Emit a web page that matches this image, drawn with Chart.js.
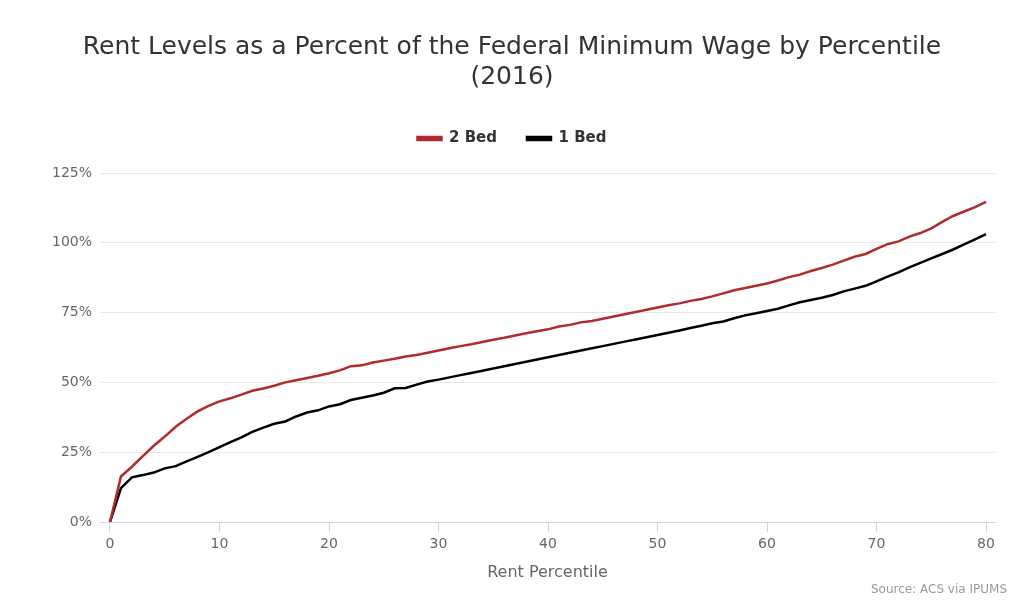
<!DOCTYPE html>
<html>
<head>
<meta charset="utf-8">
<script src="https://cdn.jsdelivr.net/npm/chart.js@4.4.1/dist/chart.umd.min.js"></script>
<style>
  html, body { margin: 0; padding: 0; background: #fff; }
  #wrap { width: 1024px; height: 616px; }
</style>
</head>
<body>
<div id="wrap"><canvas id="rent-chart"></canvas></div>
<script>
// rent percentile (x) and rent as % of federal minimum wage
const percentiles = Array.from({ length: 81 }, (_, i) => i);
const twoBed = [
  0, 16.3, 19.8, 23.6, 27.3, 30.6, 34.1, 37, 39.6, 41.6,
  43.2, 44.3, 45.6, 47, 47.8, 48.8, 50, 50.8, 51.6, 52.4,
  53.3, 54.3, 55.8, 56.1, 57.1, 57.8, 58.5, 59.3, 59.8, 60.6,
  61.4, 62.2, 63, 63.7, 64.5, 65.3, 66, 66.8, 67.6, 68.3,
  69, 70, 70.6, 71.5, 72, 72.8, 73.6, 74.4, 75.2, 76,
  76.8, 77.6, 78.3, 79.2, 79.9, 80.8, 81.9, 83, 83.8, 84.6,
  85.4, 86.5, 87.7, 88.6, 89.9, 91, 92.2, 93.6, 95, 96,
  97.8, 99.5, 100.5, 102.2, 103.5, 105.2, 107.5, 109.6, 111.2, 112.8,
  114.7
];
const oneBed = [
  0, 12.1, 16, 16.8, 17.7, 19.2, 20, 21.7, 23.3, 25,
  26.8, 28.6, 30.3, 32.3, 33.8, 35.2, 36, 37.8, 39.2, 40,
  41.4, 42.2, 43.7, 44.5, 45.3, 46.3, 47.9, 48, 49.2, 50.3,
  51, 51.8, 52.6, 53.4, 54.2, 55, 55.8, 56.6, 57.4, 58.2,
  59, 59.8, 60.6, 61.4, 62.2, 63, 63.8, 64.6, 65.4, 66.2,
  67, 67.8, 68.6, 69.5, 70.3, 71.2, 71.8, 73, 74, 74.8,
  75.6, 76.4, 77.6, 78.7, 79.5, 80.3, 81.3, 82.6, 83.6, 84.6,
  86.2, 87.9, 89.4, 91.2, 92.8, 94.4, 96, 97.6, 99.4, 101.2,
  103.1
];
const xTicks = [0, 10, 20, 30, 40, 50, 60, 70, 80];
const yTicks = [0, 25, 50, 75, 100, 125];
const SOURCE = 'Source: ACS via IPUMS';

const FONT = "'DejaVu Sans', 'Open Sans', sans-serif";
Chart.defaults.font.family = FONT;
Chart.defaults.color = '#666';

const toPoints = arr => arr.map((v, i) => ({ x: percentiles[i], y: v }));

// extra room between legend and plot
const legendGap = {
  id: 'legendGap',
  beforeInit(chart) {
    const fit = chart.legend.fit;
    chart.legend.fit = function () {
      fit.bind(chart.legend)();
      this.height += 17;
    };
  }
};

// credit line, bottom right corner
const sourceNote = {
  id: 'sourceNote',
  afterDraw(chart) {
    const ctx = chart.ctx;
    ctx.save();
    ctx.font = '12px ' + FONT;
    ctx.fillStyle = '#999';
    ctx.textAlign = 'right';
    ctx.textBaseline = 'middle';
    ctx.fillText(SOURCE, chart.width - 17, 590);
    ctx.restore();
  }
};

new Chart(document.getElementById('rent-chart'), {
  type: 'line',
  data: {
    datasets: [
      { label: '2 Bed', data: toPoints(twoBed), borderColor: '#b12a2e', backgroundColor: '#b12a2e',
        borderWidth: 2.5, pointRadius: 0, tension: 0 },
      { label: '1 Bed', data: toPoints(oneBed), borderColor: '#000', backgroundColor: '#000',
        borderWidth: 2.5, pointRadius: 0, tension: 0 }
    ]
  },
  plugins: [legendGap, sourceNote],
  options: {
    responsive: true,
    maintainAspectRatio: false,
    animation: false,
    layout: { padding: { left: 29, right: 29, top: 32, bottom: 34 } },
    plugins: {
      title: {
        display: true,
        text: ['Rent Levels as a Percent of the Federal Minimum Wage by Percentile', '(2016)'],
        color: '#333',
        font: { size: 25, weight: 'normal' },
        padding: { top: 0, bottom: 9 }
      },
      legend: {
        display: true,
        labels: {
          color: '#333',
          font: { size: 15, weight: 'bold' },
          boxWidth: 24, boxHeight: 3,
          padding: 30
        }
      },
      tooltip: { enabled: false }
    },
    scales: {
      x: {
        type: 'linear',
        min: -0.913,
        max: 80.82,
        afterBuildTicks: s => { s.ticks = xTicks.map(v => ({ value: v })); },
        grid: { drawOnChartArea: false, drawTicks: true, tickLength: 10, color: '#ccd6eb' },
        border: { color: '#ccd6eb' },
        ticks: { font: { size: 14 }, color: '#666', padding: 4, maxRotation: 0 },
        title: { display: true, text: 'Rent Percentile', color: '#666', font: { size: 16 }, padding: { top: 6, bottom: 0 } }
      },
      y: {
        min: 0,
        max: 125,
        afterBuildTicks: s => { s.ticks = yTicks.map(v => ({ value: v })); },
        afterFit: s => { s.width = 71; },
        grid: { color: '#e6e6e6', drawTicks: false },
        border: { display: false },
        ticks: { font: { size: 14 }, color: '#666', padding: 8, callback: v => v + '%' }
      }
    }
  }
});
</script>
</body>
</html>
